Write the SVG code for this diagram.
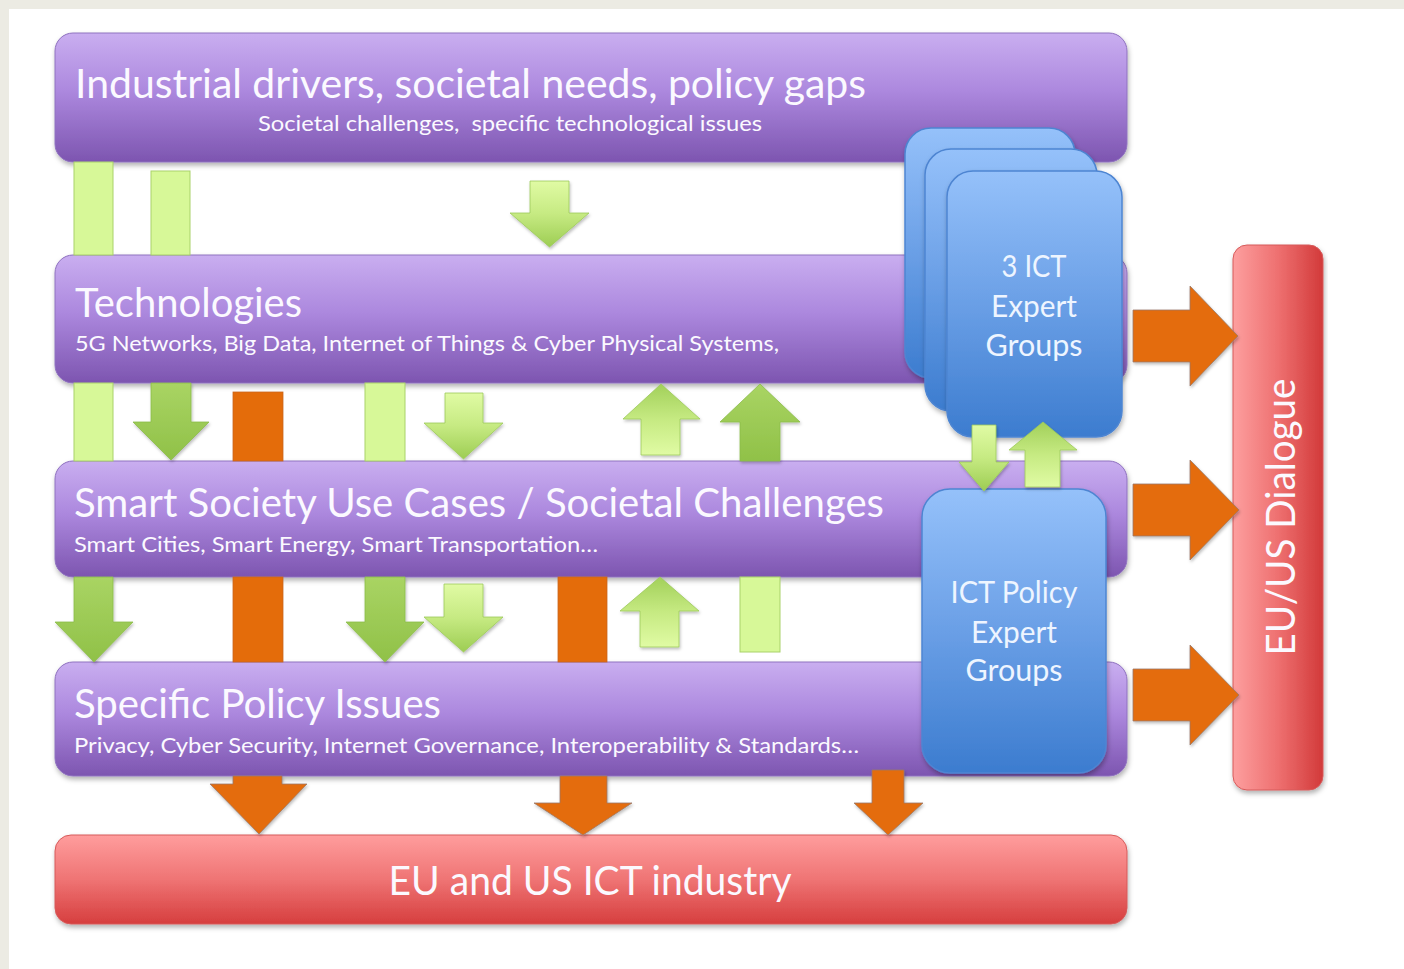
<svg xmlns="http://www.w3.org/2000/svg" width="1404" height="969" viewBox="0 0 1404 969">
  <style>
    .title { font-family: Lato, 'Open Sans', 'Liberation Sans', sans-serif; font-size: 40px; fill: #fbf9ff; }
    .sub { font-family: Lato, 'Open Sans', 'Liberation Sans', sans-serif; font-size: 21px; fill: #fbf9ff; }
    .box { font-family: Lato, 'Open Sans', 'Liberation Sans', sans-serif; font-size: 30px; fill: #eef5ff; text-anchor: middle; }
    .row { fill: url(#gPurple); stroke: #8f72bf; stroke-width: 1; filter: url(#shadow); }
    .blue { fill: url(#gBlue); stroke: #4d85d2; stroke-width: 1.5; filter: url(#shadow); }
    .lbar { fill: #d7f898; stroke: #a9d26a; stroke-width: 1; }
    .ldown { fill: url(#gLightDown); stroke: #9cc95a; stroke-width: 0.8; filter: url(#shadowS); }
    .lup { fill: url(#gLightUp); stroke: #9cc95a; stroke-width: 0.8; filter: url(#shadowS); }
    .dark { fill: url(#gDark); stroke: #8cbc4a; stroke-width: 0.8; filter: url(#shadowS); }
    .orange { fill: #e46c0a; stroke: #c8661f; stroke-width: 0.8; }
    .oarrow { fill: #e46c0a; stroke: #9a7a6a; stroke-width: 0.8; filter: url(#shadowS); }
  </style>
  <defs>
    <linearGradient id="gPurple" x1="0" y1="0" x2="0" y2="1">
      <stop offset="0" stop-color="#c9aef0"/>
      <stop offset="0.45" stop-color="#ac88de"/>
      <stop offset="1" stop-color="#7d55b0"/>
    </linearGradient>
    <linearGradient id="gBlue" x1="0" y1="0" x2="0" y2="1">
      <stop offset="0" stop-color="#95c1fa"/>
      <stop offset="0.5" stop-color="#6a9fe6"/>
      <stop offset="1" stop-color="#3c7ccf"/>
    </linearGradient>
    <linearGradient id="gRedH" x1="0" y1="0" x2="0" y2="1">
      <stop offset="0" stop-color="#ff9d9d"/>
      <stop offset="0.5" stop-color="#ef7474"/>
      <stop offset="1" stop-color="#d63e3e"/>
    </linearGradient>
    <linearGradient id="gRedV" x1="0" y1="0" x2="1" y2="0">
      <stop offset="0" stop-color="#fd9f9f"/>
      <stop offset="0.5" stop-color="#ee7070"/>
      <stop offset="1" stop-color="#d23a3a"/>
    </linearGradient>
    <linearGradient id="gLightDown" x1="0" y1="0" x2="0" y2="1">
      <stop offset="0" stop-color="#e0fba4"/>
      <stop offset="0.5" stop-color="#c6ea82"/>
      <stop offset="1" stop-color="#9dcd53"/>
    </linearGradient>
    <linearGradient id="gLightUp" x1="0" y1="1" x2="0" y2="0">
      <stop offset="0" stop-color="#e0fba4"/>
      <stop offset="0.5" stop-color="#c6ea82"/>
      <stop offset="1" stop-color="#a2d05a"/>
    </linearGradient>
    <linearGradient id="gDark" x1="0" y1="0" x2="0" y2="1">
      <stop offset="0" stop-color="#a9d463"/>
      <stop offset="1" stop-color="#90c148"/>
    </linearGradient>
    <filter id="shadow" x="-5%" y="-10%" width="110%" height="130%">
      <feDropShadow dx="1" dy="3" stdDeviation="2.5" flood-color="#000" flood-opacity="0.3"/>
    </filter>
    <filter id="shadowS" x="-20%" y="-20%" width="140%" height="140%">
      <feDropShadow dx="1" dy="2" stdDeviation="1.5" flood-color="#000" flood-opacity="0.25"/>
    </filter>
  </defs>

  <!-- background -->
  <rect x="0" y="0" width="1404" height="969" fill="#ecebe3"/>
  <rect x="9" y="9" width="1395" height="960" fill="#ffffff"/>

  <!-- nodes -->
  <g id="n-drivers">
    <rect class="row" x="55" y="33" width="1072" height="129" rx="18"/>
    <text class="title" x="75" y="98" textLength="791" lengthAdjust="spacingAndGlyphs">Industrial drivers, societal needs, policy gaps</text>
    <text class="sub" x="258" y="131" textLength="504" lengthAdjust="spacingAndGlyphs">Societal challenges,&#160; specific technological issues</text>
  </g>
  <g id="n-technologies">
    <rect class="row" x="55" y="255" width="1072" height="128" rx="18"/>
    <text class="title" x="75" y="317" textLength="227" lengthAdjust="spacingAndGlyphs">Technologies</text>
    <text class="sub" x="75" y="351" textLength="704" lengthAdjust="spacingAndGlyphs">5G Networks, Big Data, Internet of Things &amp; Cyber Physical Systems,</text>
  </g>
  <g id="n-smart-society">
    <rect class="row" x="55" y="461" width="1072" height="116" rx="18"/>
    <text class="title" x="74" y="517" textLength="810" lengthAdjust="spacingAndGlyphs">Smart Society Use Cases / Societal Challenges</text>
    <text class="sub" x="74" y="552" textLength="524" lengthAdjust="spacingAndGlyphs">Smart Cities, Smart Energy, Smart Transportation…</text>
  </g>
  <g id="n-policy-issues">
    <rect class="row" x="55" y="662" width="1072" height="114" rx="18"/>
    <text class="title" x="74" y="718" textLength="367" lengthAdjust="spacingAndGlyphs">Specific Policy Issues</text>
    <text class="sub" x="74" y="753" textLength="785" lengthAdjust="spacingAndGlyphs">Privacy, Cyber Security, Internet Governance, Interoperability &amp; Standards…</text>
  </g>
  <g id="n-industry">
    <rect x="55" y="835" width="1072" height="89" rx="16" fill="url(#gRedH)" stroke="#d65a5a" stroke-width="1" filter="url(#shadow)"/>
    <text class="title" x="590" y="895" text-anchor="middle" textLength="403" lengthAdjust="spacingAndGlyphs">EU and US ICT industry</text>
  </g>
  <g id="n-dialogue">
    <rect x="1233" y="245" width="90" height="545" rx="14" fill="url(#gRedV)" stroke="#d65a5a" stroke-width="1" filter="url(#shadow)"/>
    <text class="title" transform="translate(1295,517) rotate(-90)" x="0" y="0" text-anchor="middle" textLength="277" lengthAdjust="spacingAndGlyphs">EU/US Dialogue</text>
  </g>
  <g id="n-ict-experts">
    <rect class="blue" x="905" y="128" width="170" height="250" rx="26"/>
    <rect class="blue" x="925" y="149" width="172" height="262" rx="26"/>
    <rect class="blue" x="947" y="171" width="175" height="266" rx="26"/>
    <text class="box" x="1034" y="277" textLength="65" lengthAdjust="spacingAndGlyphs">3 ICT</text>
    <text class="box" x="1034" y="317" textLength="86" lengthAdjust="spacingAndGlyphs">Expert</text>
    <text class="box" x="1034" y="356" textLength="97" lengthAdjust="spacingAndGlyphs">Groups</text>
  </g>
  <g id="n-ict-policy">
    <rect class="blue" x="922" y="489" width="184" height="284" rx="28"/>
    <text class="box" x="1014" y="603" textLength="127" lengthAdjust="spacingAndGlyphs">ICT Policy</text>
    <text class="box" x="1014" y="643" textLength="86" lengthAdjust="spacingAndGlyphs">Expert</text>
    <text class="box" x="1014" y="681" textLength="97" lengthAdjust="spacingAndGlyphs">Groups</text>
  </g>

  <!-- connectors -->
  <g id="connectors">
    <!-- gap 1 -->
    <rect class="lbar" x="74" y="162" width="39" height="93"/>
    <rect class="lbar" x="151" y="171" width="39" height="84"/>
    <path class="ldown" d="M530,181 H569 V213 H589 L549.5,247 L510,213 H530 Z"/>
    <!-- gap 2 -->
    <rect class="lbar" x="74" y="383" width="39" height="78"/>
    <path class="dark" d="M151,383 H191 V422 H209 L171,460 L133,422 H151 Z"/>
    <rect class="orange" x="233" y="392" width="50" height="69"/>
    <rect class="lbar" x="365" y="383" width="40" height="78"/>
    <path class="ldown" d="M445,393 H483 V423 H503 L463.5,459 L424,423 H445 Z"/>
    <path class="lup" d="M641,455 H680 V419 H700 L661,384 L623,419 H641 Z"/>
    <path class="dark" d="M740,461 H780 V422 H800 L760,384 L720,422 H740 Z"/>
    <!-- gap 3 -->
    <path class="dark" d="M74,577 H113 V622 H133 L94,662 L55,622 H74 Z"/>
    <rect class="orange" x="233" y="577" width="50" height="85"/>
    <path class="dark" d="M365,577 H405 V622 H424 L385,662 L346,622 H365 Z"/>
    <path class="ldown" d="M444,584 H483 V617 H503 L463.5,652 L424,617 H444 Z"/>
    <rect class="orange" x="558" y="577" width="49" height="85"/>
    <path class="lup" d="M640,647 H679 V611 H699 L660,577 L620,611 H640 Z"/>
    <rect class="lbar" x="740" y="577" width="40" height="75"/>
    <!-- between expert groups -->
    <path class="ldown" d="M972,425 H996 V462 H1009 L984,491 L959,462 H972 Z"/>
    <path class="lup" d="M1025,487 H1060 V450 H1077 L1043,422 L1009,450 H1025 Z"/>
    <!-- gap 4 to industry -->
    <path class="oarrow" d="M233,776 H282 V784 H307 L259,834 L210,784 H233 Z"/>
    <path class="oarrow" d="M560,776 H607 V803 H632 L583,835 L534,803 H560 Z"/>
    <path class="oarrow" d="M872,770 H904 V803 H923 L888,835 L854,803 H872 Z"/>
    <!-- to dialogue -->
    <path class="oarrow" d="M1133,310 H1190 V286 L1238,336 L1190,386 V362 H1133 Z"/>
    <path class="oarrow" d="M1133,484 H1190 V460 L1239,510 L1190,560 V536 H1133 Z"/>
    <path class="oarrow" d="M1133,669 H1190 V645 L1239,695 L1190,745 V721 H1133 Z"/>
  </g>
</svg>
